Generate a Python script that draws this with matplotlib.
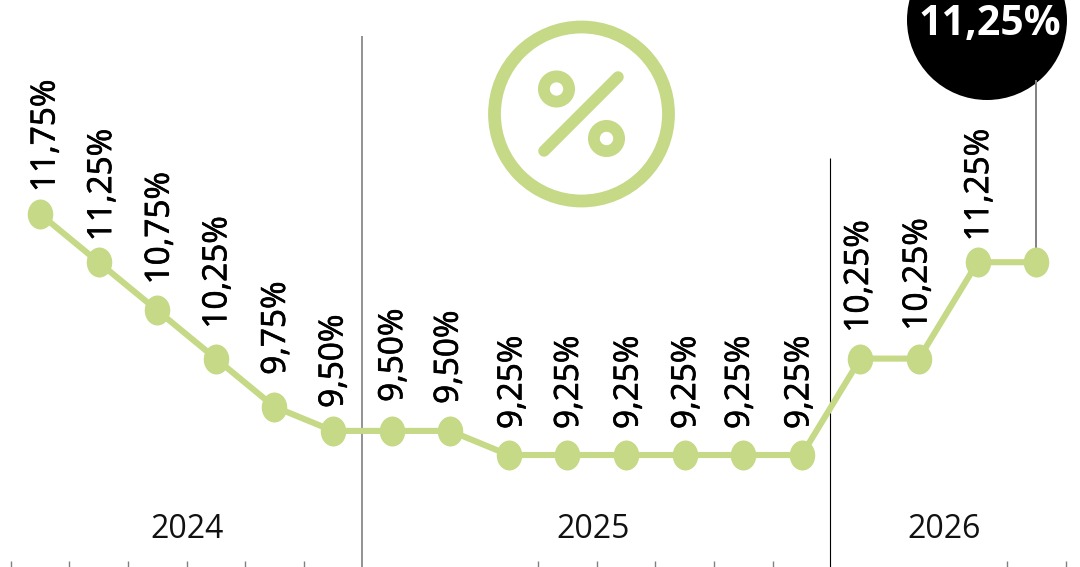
import matplotlib
matplotlib.use('Agg')
import matplotlib.pyplot as plt
from matplotlib.patches import Circle
from matplotlib.path import Path
from matplotlib.transforms import Affine2D
import matplotlib.patheffects as pe

rates = [11.75, 11.25, 10.75, 10.25, 9.75, 9.50, 9.50, 9.50, 9.25, 9.25, 9.25,
         9.25, 9.25, 9.25, 10.25, 10.25, 11.25, 11.25]
rate_labels = ['11,75%', '11,25%', '10,75%', '10,25%', '9,75%', '9,50%', '9,50%', '9,50%',
               '9,25%', '9,25%', '9,25%', '9,25%', '9,25%', '9,25%', '10,25%', '10,25%',
               '11,25%', '']
years = ['2024', '2025', '2026']
tick_months = [-0.5, 0.5, 1.5, 2.5, 3.5, 4.5, 8.5, 9.5, 10.5, 11.5, 12.5, 16.5, 17.5]
current_label = '11,25%'

GREEN = '#c5d986'
GRAY = '#808080'
plt.rcParams['font.family'] = ['Open Sans', 'DejaVu Sans']

W, H = 1080, 567
STEP = 58.6      # px per month
UNIT = 96.4      # px per percentage point
x_px = lambda m: 40 + STEP * m
y_px = lambda v: 214 + (11.75 - v) * UNIT

fig = plt.figure(figsize=(W / 100, H / 100), dpi=100)

# chart axes, scaled so the data lands where it does in the picture
ax = fig.add_axes([0, 0, 1, 1])
ax.set_xlim(-40 / STEP, (W - 40) / STEP)
ax.set_ylim(11.75 - (H - 214) / UNIT, 11.75 + 214 / UNIT)
ax.axis('off')

# overlay in pixels for the icon and the bubble
deco = fig.add_axes([0, 0, 1, 1], zorder=-1)
deco.set_xlim(0, W)
deco.set_ylim(H, 0)
deco.set_aspect('equal')
deco.axis('off')

months = list(range(len(rates)))
# points are a bit taller than wide
oval = Path.unit_circle().transformed(Affine2D().scale(25.5, 30))
ax.plot(months, rates, color=GREEN, lw=4.4, marker=oval, ms=21.6, mew=0, solid_joinstyle='round')

# the reference type is a bit heavier than Open Sans regular
heavier = [pe.withStroke(linewidth=0.5, foreground='black')]

# label offsets from each point, px (x, y of the text's lower end)
label_dx = [6, 4, 3, 2, 2, 1, 2, -1, 4, 2, 3, 2, -3, -2, -1, -1, 2, 0]
label_dy = [22, 21, 26, 30, 32, 23, 29, 27, 26, 26, 26, 26, 26, 26, 26, 28, 21, 0]
for m, v, txt, dx, dy in zip(months, rates, rate_labels, label_dx, label_dy):
    ax.annotate(txt, (m, v), xytext=(dx, dy), textcoords='offset pixels', rotation=90,
                ha='center', va='bottom', fontsize=24, color='black', path_effects=heavier)

# ticks along the bottom
for m in tick_months:
    deco.plot([x_px(m)] * 2, [561, H], color=GRAY, lw=1.0, solid_capstyle='butt')

# year dividers
deco.plot([x_px(5.5)] * 2, [36, H], color=GRAY, lw=1.2, solid_capstyle='butt')
deco.plot([x_px(13.5) - 1] * 2, [158, H], color='black', lw=0.8, solid_capstyle='butt')

for year, xc in zip(years, [187, 593, 944]):
    deco.text(xc, 537.5, year, ha='center', va='baseline', fontsize=23, color='#111111')

# bubble with the current rate
deco.plot([x_px(17)] * 2, [y_px(rates[-1]), 80], color=GRAY, lw=1.4, solid_capstyle='butt')
deco.add_patch(Circle((987, 20), 80, color='black', lw=0))
deco.text(989.5, 35, current_label, ha='center', va='baseline', fontsize=29.5, fontweight='bold',
          color='white')

# percent icon
deco.add_patch(Circle((581.5, 114), 87, fc='none', ec=GREEN, lw=9.2))
deco.add_patch(Circle((556.5, 89), 12.6, fc='none', ec=GREEN, lw=8.5))
deco.add_patch(Circle((606.5, 138.5), 12.6, fc='none', ec=GREEN, lw=8.5))
deco.plot([544, 618], [151, 77], color=GREEN, lw=8.3, solid_capstyle='round')

fig.savefig('out.png', dpi=100, facecolor='white')
